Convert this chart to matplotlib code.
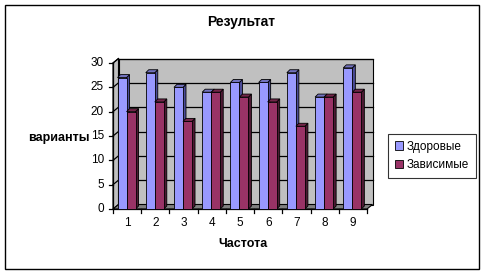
import matplotlib
matplotlib.use("Agg")
import matplotlib.pyplot as plt
from matplotlib.patches import Polygon, Rectangle
from matplotlib.lines import Line2D

categories = ["1", "2", "3", "4", "5", "6", "7", "8", "9"]
healthy = [27, 28, 25, 24, 26, 26, 28, 23, 29]
dependent = [20, 22, 18, 24, 23, 22, 17, 23, 24]
series_names = ["Здоровые", "Зависимые"]
y_ticks = [0, 5, 10, 15, 20, 25, 30]

plt.rcParams['font.family'] = ['Liberation Sans', 'DejaVu Sans']

W, H = 486, 275
fig = plt.figure(figsize=(W / 100, H / 100), dpi=100)
fig.patch.set_facecolor('white')

# axes in pixel geometry
ax_l, ax_r, ax_t, ax_b = 113, 367, 63, 209
ax = fig.add_axes([ax_l / W, (H - ax_b) / H, (ax_r - ax_l) / W, (ax_b - ax_t) / H])
n = len(categories)
ax.set_xlim(0.5, n + 0.5)
ax.set_ylim(0, 30)
ax.axis('off')

pxx = (ax_r - ax_l) / n      # px per x unit
pxy = (ax_b - ax_t) / 30     # px per y unit

def dx(p):
    return p / pxx

def dy(p):
    return p / pxy

wall_dx, wall_dy = dx(5.5), dy(4.5)
x0, x1 = 0.5, n + 0.5

wall_c = '#C0C0C0'
floor_c = '#808080'
# left side wall
ax.add_patch(Polygon([(x0, 0), (x0 + wall_dx, wall_dy), (x0 + wall_dx, 30 + wall_dy), (x0, 30)],
                     closed=True, facecolor=wall_c, edgecolor='black', lw=0.8, clip_on=False, zorder=1))
# back wall
ax.add_patch(Polygon([(x0 + wall_dx, wall_dy), (x1 + wall_dx, wall_dy), (x1 + wall_dx, 30 + wall_dy), (x0 + wall_dx, 30 + wall_dy)],
                     closed=True, facecolor=wall_c, edgecolor='black', lw=0.8, clip_on=False, zorder=1))
# floor
ax.add_patch(Polygon([(x0, 0), (x1, 0), (x1 + wall_dx, wall_dy), (x0 + wall_dx, wall_dy)],
                     closed=True, facecolor=floor_c, edgecolor='black', lw=0.8, clip_on=False, zorder=1))

# gridlines
for t in y_ticks[1:]:
    ax.add_line(Line2D([x0 + wall_dx, x1 + wall_dx], [t + wall_dy, t + wall_dy], color='black', lw=0.9, zorder=2, clip_on=False))
    ax.add_line(Line2D([x0, x0 + wall_dx], [t, t + wall_dy], color='black', lw=0.9, zorder=2, clip_on=False))

# axes lines and ticks
ax.add_line(Line2D([x0, x0], [0, 30], color='black', lw=0.9, zorder=5, clip_on=False))
ax.add_line(Line2D([x0, x1], [0, 0], color='black', lw=0.9, zorder=5, clip_on=False))
for t in y_ticks:
    ax.add_line(Line2D([x0 - dx(4), x0], [t, t], color='black', lw=0.9, zorder=5, clip_on=False))
    ax.text(x0 - dx(9), t, str(t), ha='right', va='center', fontsize=8.5, zorder=5)
for i in range(n + 1):
    xb = 0.5 + i
    ax.add_line(Line2D([xb, xb], [0, -dy(4)], color='black', lw=0.9, zorder=5, clip_on=False))
for i, c in enumerate(categories):
    ax.text(i + 1, -dy(14), c, ha='center', va='center', fontsize=8.5)

# bars
bw = 0.32
bd_x, bd_y = dx(3), dy(3)
colors = [('#9999FF', '#4C4C99', '#7373BF'), ('#993366', '#4D1A33', '#732649')]
for i in range(n):
    c = i + 1
    for s, vals in enumerate([healthy, dependent]):
        v = vals[i]
        left = c - bw - 0.02 + s * bw
        right = left + bw
        front, side, top = colors[s]
        z = 10 + i * 2 + s
        ax.add_patch(Polygon([(right, 0), (right + bd_x, bd_y), (right + bd_x, v + bd_y), (right, v)],
                             closed=True, facecolor=side, edgecolor='black', lw=0.6, zorder=z, clip_on=False))
        ax.add_patch(Polygon([(left, v), (right, v), (right + bd_x, v + bd_y), (left + bd_x, v + bd_y)],
                             closed=True, facecolor=top, edgecolor='black', lw=0.6, zorder=z, clip_on=False))
        ax.add_patch(Rectangle((left, 0), bw, v, facecolor=front, edgecolor='black', lw=0.6, zorder=z, clip_on=False))

# labels
fig.text(241 / W, 1 - 22 / H, "Результат", ha='center', va='center', fontsize=10, fontweight='bold')
fig.text(59 / W, 1 - 138 / H, "варианты", ha='center', va='center', fontsize=9, fontweight='bold')
fig.text(243 / W, 1 - 244 / H, "Частота", ha='center', va='center', fontsize=9, fontweight='bold')

# legend
handles = [Rectangle((0, 0), 1, 1, facecolor=colors[0][0], edgecolor='black', lw=0.6),
           Rectangle((0, 0), 1, 1, facecolor=colors[1][0], edgecolor='black', lw=0.6)]
leg = fig.legend(handles, series_names, loc='center', bbox_to_anchor=(432 / W, 1 - 156 / H),
                 fontsize=8.5, frameon=True, fancybox=False, edgecolor='black', handlelength=0.7,
                 handleheight=0.7, handletextpad=0.35, borderpad=0.6, labelspacing=0.55,
                 borderaxespad=0)
leg.get_frame().set_linewidth(0.8)

# outer border
fig.add_artist(Rectangle((5 / W, 1 - 269 / H), 474 / W, 264 / H, transform=fig.transFigure,
                         fill=False, edgecolor='black', lw=1))

fig.savefig('out.png', dpi=100)
